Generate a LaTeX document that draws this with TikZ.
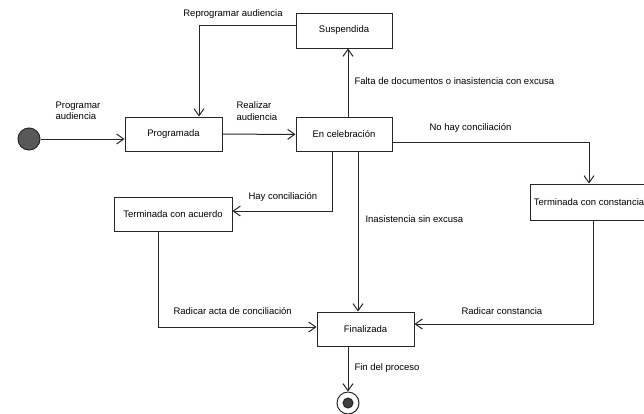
\documentclass[tikz,border=0pt]{standalone}
\usepackage{fontspec}
\setmainfont{Liberation Sans}
\usetikzlibrary{arrows.meta}

\begin{document}
\begin{tikzpicture}[x=1pt,y=-1pt,line width=1pt,draw=black!85,
  >={Straight Barb[length=7pt,width=10pt]}]
\newcommand{\fsize}{\fontsize{9.5}{11.5}\selectfont}
\useasboundingbox (0,0) rectangle (644,413);
% states
\begin{scope}[shape=rectangle,minimum height=34pt,inner sep=1pt]
\tikzstyle{every node}=[draw,fill=white,font=\fsize]
\node[minimum width=97pt] (Programada) at (173.5,134) {Programada};
\node[minimum width=96pt] (Celebracion) at (344,134.5) {En celebración};
\node[minimum width=96pt,minimum height=35pt] (Suspendida) at (344,30.5) {Suspendida};
\node[minimum width=118pt] (Acuerdo) at (173,214) {Terminada con acuerdo};
\node[minimum width=117pt,minimum height=36pt] (Constancia) at (589,202) {Terminada con constancia};
\node[minimum width=97pt] (Finalizada) at (365.5,329) {Finalizada};
\end{scope}
% start and end
\begin{scope}[shape=circle,inner sep=0pt]
\tikzstyle{every node}=[draw]
\node[fill=black!65,minimum size=22pt] (Inicio) at (29,139) {};
\node[fill=white,minimum size=22pt] (Fin) at (348,403) {};
\node[fill=black!75,minimum size=10pt] (FinIn) at (348,403) {};
\end{scope}
% transitions
\draw [->] (Inicio) -- (Inicio -| Programada.west);
\draw [->] (Programada) -- (Celebracion);
\draw [->] ([xshift=4pt]Celebracion.north) -- ([xshift=4pt]Suspendida.south);
\draw [->] ([yshift=5.5pt]Suspendida.west) -| ([xshift=25.5pt]Programada.north);
\draw [->] ([yshift=-7.5pt]Celebracion.east) -| (Constancia.north);
\draw [->] ([xshift=-12pt]Celebracion.south) |- ([yshift=3pt]Acuerdo.east);
\draw [->] ([xshift=14pt]Celebracion.south) -- ([xshift=-7.5pt]Finalizada.north);
\draw [->] ([xshift=-15pt]Acuerdo.south) |- ([yshift=2pt]Finalizada.west);
\draw [->] ([xshift=4pt]Constancia.south) |- ([yshift=5pt]Finalizada.east);
\draw [->] ([xshift=-17.5pt]Finalizada.south) -- (Fin.north);
% labels
\begin{scope}[inner sep=0pt]
\tikzstyle{every node}=[font=\fsize]
\node[anchor=west,align=left] (lProgramar) at (55,111) {Programar\\audiencia};
\node[anchor=west,align=left] (lRealizar) at (236,111) {Realizar\\audiencia};
\node (lReprogramar) at (233,14) {Reprogramar audiencia};
\node[anchor=west] (lFalta) at (354,81) {Falta de documentos o inasistencia con excusa};
\node[anchor=west] (lNoHay) at (429,128) {No hay conciliación};
\node[anchor=west] (lHay) at (248,197) {Hay conciliación};
\node[anchor=west] (lInasistencia) at (365,219) {Inasistencia sin excusa};
\node[anchor=west] (lActa) at (173,311) {Radicar acta de conciliación};
\node[anchor=west] (lRadicar) at (461,311) {Radicar constancia};
\node[anchor=west] (lFinProceso) at (354,368) {Fin del proceso};
\end{scope}
\end{tikzpicture}
\end{document}
